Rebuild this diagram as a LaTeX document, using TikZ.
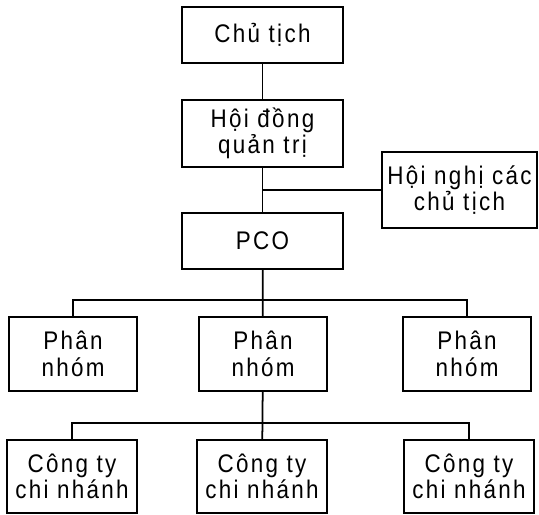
\documentclass[tikz,border=0pt]{standalone}
\usepackage{fontspec}
\setmainfont{Liberation Sans}[FakeStretch=0.88, LetterSpace=9]
\usepackage{xcolor}

\tikzset{
  box/.style={draw, line width=1pt, align=center, inner sep=2pt,
    font=\fontsize{14.5}{15}\selectfont},
  link/.style={line width=1pt}
}

\begin{document}
\begin{tikzpicture}
\useasboundingbox (0,0) rectangle (10.78,-10.28);

\node (CT) at (5.25,-0.70) [box, minimum width=3.22cm, minimum height=1.12cm] {Chủ tịch};
\node (HD) at (5.25,-2.67) [box, minimum width=3.22cm, minimum height=1.34cm] {Hội đồng\\quản trị};
\node (HN) at (9.19,-3.80) [box, minimum width=3.10cm, minimum height=1.52cm] {Hội nghị các\\chủ tịch};
\node (PCO) at (5.25,-4.82) [box, minimum width=3.22cm, minimum height=1.12cm] {PCO};

\node (PN1) at (1.46,-7.08) [box, minimum width=2.56cm, minimum height=1.48cm] {Phân\\nhóm};
\node (PN2) at (5.26,-7.08) [box, minimum width=2.56cm, minimum height=1.48cm] {Phân\\nhóm};
\node (PN3) at (9.34,-7.08) [box, minimum width=2.56cm, minimum height=1.48cm] {Phân\\nhóm};

\node (CN1) at (1.44,-9.53) [box, minimum width=2.60cm, minimum height=1.46cm] {Công ty\\chi nhánh};
\node (CN2) at (5.24,-9.53) [box, minimum width=2.60cm, minimum height=1.46cm] {Công ty\\chi nhánh};
\node (CN3) at (9.38,-9.53) [box, minimum width=2.60cm, minimum height=1.46cm] {Công ty\\chi nhánh};

\coordinate (bus1) at (5.26,-6.00);
\coordinate (bus2) at (5.26,-8.46);

\draw [link] (CT) -- (HD);
\draw [link] (HD) -- (PCO);
\draw [link] (HN) -- (HN -| HD);
\draw [link] (PCO) -- (PN2);
\draw [link] (PN1) |- (bus1) -| (PN3);
\draw [link] (PN2) -- (CN2);
\draw [link] (CN1) |- (bus2) -| (CN3);
\end{tikzpicture}
\end{document}
